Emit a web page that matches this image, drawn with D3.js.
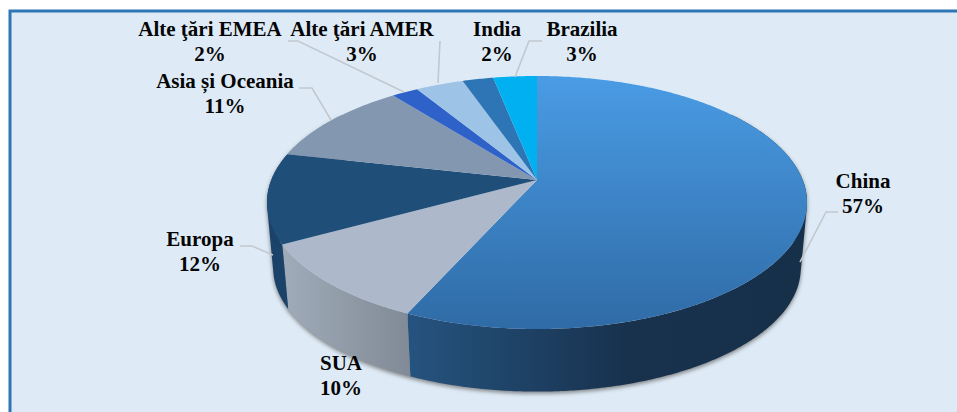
<!DOCTYPE html>
<html><head><meta charset="utf-8">
<script src="https://cdn.jsdelivr.net/npm/d3@7"></script>
<style>html,body{margin:0;padding:0;background:#fff;overflow:hidden}svg{display:block}text{font-family:"Liberation Serif",serif;font-weight:bold;font-size:21px;fill:#050505;text-anchor:middle}</style>
</head><body><svg id="c" width="957" height="412"></svg>
<script>
const categories=["China","SUA","Europa","Asia și Oceania","Alte ţări EMEA","Alte ţări AMER","India","Brazilia"];
const values=[56.7,10.3,11.5,10.9,1.9,3.4,2.2,3.1];
const topColors=["url(#gChina)","#adb9ca","#1f4e79","#8497b0","#2e62c8","#9dc3e6","#2e75b6","#00b0f0"];
const wallColors=["url(#wChina)","url(#wSua)","#1b4269","#6f8097","#2450a0","#7fa0c0","#255f95","#008cc0"];
const labelCenters=[[863,188],[341,370],[200,246],[225,88],[210,36],[362,36],[497,36],[582,36]];
const leaders=[
 [[800,262],[826,212],[838,212]],
 [[273,255],[252,246],[240,246]],
 [[331,120],[312,88],[299,88]],
 [[404,92],[298,41],[288,41]],
 [[438,83],[440,41]],
 [[515,77],[529,41],[542,41]]];

const svg=d3.select("#c"),W=957,H=412;
const defs=svg.append("defs");
function lg(id,x1,y1,x2,y2,stops){const g=defs.append("linearGradient").attr("id",id).attr("gradientUnits","userSpaceOnUse").attr("x1",x1).attr("y1",y1).attr("x2",x2).attr("y2",y2);
 stops.forEach(s=>g.append("stop").attr("offset",s[0]).attr("stop-color",s[1]));}
lg("gChina",0,76,0,329,[[0,"#4a9ce5"],[1,"#2f6ba6"]]);
lg("wChina",410,0,800,0,[[0,"#25537f"],[.55,"#18324e"],[1,"#16304a"]]);
lg("wSua",284,0,412,0,[[0,"#a0abb9"],[1,"#808a96"]]);
defs.append("filter").attr("id","blur").attr("x","-10%").attr("y","-10%").attr("width","120%").attr("height","120%").append("feGaussianBlur").attr("stdDeviation",2);

svg.append("rect").attr("x",10).attr("y",11).attr("width",1000).attr("height",500).attr("fill","#deebf7").attr("stroke","#2e75b6").attr("stroke-width",3);

// perspective projection of the pie disc
const cx=537,y0=180,a=265.7,b=122.5,k=0.178,depthY=66,bottomScale=0.977;
function proj(t,z){const u=Math.sin(t),v=-Math.cos(t),w=1-k*v,s=z?bottomScale:1;
 return [cx+a*u*s/w,y0+(z?depthY:0)+b*v*s/w];}
const pie=d3.pie().sort(null).value(d=>d)(values);
const line=d3.line();
const rim=(s,e,z)=>{const n=Math.max(2,Math.ceil((e-s)/0.01));return d3.range(n+1).map(i=>proj(s+(e-s)*i/n,z));};
// wall as a union of same-wound quads, so the silhouette follows the rim-to-rim tangent
function wall(s,e){const T=rim(s,e,0),B=rim(s,e,1);let p="";
 for(let i=0;i<T.length-1;i++){let q=[T[i],T[i+1],B[i+1],B[i]];
  if(d3.polygonArea(q)<0)q.reverse();
  p+=line(q)+"Z";}
 return p;}
const vis=[Math.PI*0.3,Math.PI*1.7];

// soft shadow beneath the wall
svg.append("path").attr("d",wall(vis[0],vis[1])).attr("fill","#6d6d6d").attr("opacity",.85).attr("filter","url(#blur)").attr("transform","translate(0,2)");

// walls
svg.selectAll(".wall").data(pie).join("path").attr("class","wall")
 .attr("fill",(d,i)=>wallColors[i])
 .attr("d",d=>{const s=Math.max(d.startAngle,vis[0]),e=Math.min(d.endAngle,vis[1]);return e<=s?null:wall(s,e);});
// top faces
svg.selectAll(".top").data(pie).join("path").attr("class","top")
 .attr("fill",(d,i)=>topColors[i])
 .attr("d",d=>line([[cx,y0]].concat(rim(d.startAngle,d.endAngle,0)))+"Z");
// leaders
svg.selectAll(".lead").data(leaders).join("path").attr("class","lead").attr("d",d=>line(d)).attr("fill","none").attr("stroke","#c3c8ce").attr("stroke-width",1.6);
// labels
const lab=svg.selectAll(".lab").data(categories).join("text").attr("class","lab");
lab.append("tspan").attr("x",(d,i)=>labelCenters[i][0]).attr("y",(d,i)=>labelCenters[i][1]).text(d=>d);
lab.append("tspan").attr("x",(d,i)=>labelCenters[i][0]).attr("y",(d,i)=>labelCenters[i][1]+25).text((d,i)=>Math.round(values[i])+"%");
</script></body></html>
